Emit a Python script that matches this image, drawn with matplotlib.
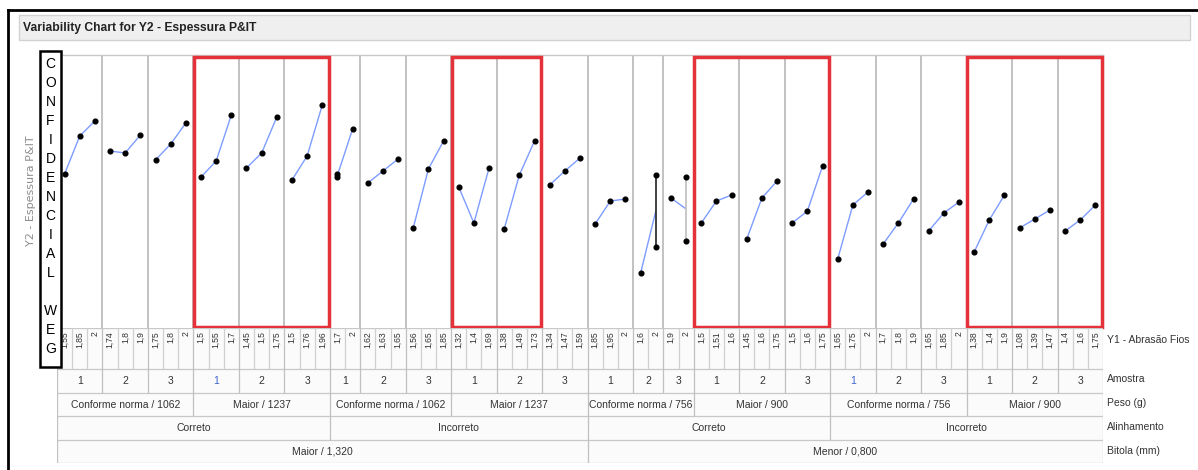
import matplotlib.pyplot as plt
from matplotlib.patches import Rectangle
from matplotlib.lines import Line2D

plt.rcParams['font.family'] = ['Liberation Sans Narrow', 'Liberation Sans', 'DejaVu Sans']

# hierarchy of the chart, outermost first
bitola = ["Maior / 1,320", "Menor / 0,800"]
alinhamento = ["Correto", "Incorreto"]
peso = [["Conforme norma / 1062", "Maior / 1237"],
        ["Conforme norma / 756", "Maior / 900"]]
amostra = ["1", "2", "3"]

# Y1 - Abrasao Fios levels, one list per amostra panel (24 panels)
abrasao = [
    ["1,55", "1,85", "2"], ["1,74", "1,8", "1,9"], ["1,75", "1,8", "2"],
    ["1,5", "1,55", "1,7"], ["1,45", "1,5", "1,75"], ["1,5", "1,76", "1,96"],
    ["1,7", "2"], ["1,62", "1,63", "1,65"], ["1,56", "1,65", "1,85"],
    ["1,32", "1,4", "1,69"], ["1,38", "1,49", "1,73"], ["1,34", "1,47", "1,59"],
    ["1,85", "1,95", "2"], ["1,6", "2"], ["1,9", "2"],
    ["1,5", "1,51", "1,6"], ["1,45", "1,6", "1,75"], ["1,5", "1,6", "1,75"],
    ["1,65", "1,75", "2"], ["1,7", "1,8", "1,9"], ["1,65", "1,85", "2"],
    ["1,38", "1,4", "1,9"], ["1,08", "1,39", "1,47"], ["1,4", "1,6", "1,75"],
]

# Y2 - Espessura P&IT observations for every Y1 cell
espessura = [
    [[0.354], [0.392], [0.407]], [[0.377], [0.375], [0.393]], [[0.368], [0.384], [0.405]],
    [[0.351], [0.367], [0.413]], [[0.360], [0.375], [0.411]], [[0.348], [0.372], [0.423]],
    [[0.3545, 0.351], [0.399]], [[0.345], [0.357], [0.369]], [[0.300], [0.359], [0.387]],
    [[0.341], [0.305], [0.360]], [[0.299], [0.353], [0.387]], [[0.343], [0.357], [0.370]],
    [[0.304], [0.327], [0.329]], [[0.255], [0.353, 0.281]], [[0.330], [0.351, 0.287]],
    [[0.305], [0.327], [0.333]], [[0.289], [0.330], [0.347]], [[0.305], [0.317], [0.362]],
    [[0.269], [0.323], [0.336]], [[0.284], [0.305], [0.329]], [[0.297], [0.315], [0.326]],
    [[0.276], [0.308], [0.333]], [[0.300], [0.309], [0.318]], [[0.297], [0.308], [0.323]],
]

W, H = 1198, 470
fig = plt.figure(figsize=(W / 100, H / 100), dpi=100)
fig.patch.set_facecolor('white')


def px_axes(x0, y0, x1, y1):
    return fig.add_axes([x0 / W, 1 - y1 / H, (x1 - x0) / W, (y1 - y0) / H])


def fx(x):
    return x / W


def fy(y):
    return 1 - y / H


# report frame and title bar
fig.add_artist(Line2D([fx(8), fx(1198)], [fy(10), fy(10)], color='black', lw=2))
fig.add_artist(Line2D([fx(8), fx(8)], [fy(10), fy(470)], color='black', lw=2))
fig.add_artist(Rectangle((fx(19), fy(40)), fx(1190) - fx(19), fy(15) - fy(40),
                         facecolor='#efefef', edgecolor='#d2d2d2', lw=1))
fig.text(fx(23), fy(28), "Variability Chart for Y2 - Espessura P&IT",
         fontsize=8.7, fontweight='bold', color='#222222', va='center')

ncell = [len(a) for a in abrasao]
starts = [sum(ncell[:i]) for i in range(len(ncell))]
total = sum(ncell)

# ---- plot area
ax = px_axes(57, 55, 1103, 328)
ax.set_xlim(0, total)
ax.set_ylim(0.20, 0.473)
ax.set_xticks([])
ax.set_yticks([])
for s in ax.spines.values():
    s.set_color('#c8c8c8')
    s.set_linewidth(1)
ax.spines['bottom'].set_visible(False)

bar_colors = {13: '#333333', 14: '#c4c4c4'}
for p, (levels, obs) in enumerate(zip(abrasao, espessura)):
    x0 = starts[p]
    xs = [x0 + i + 0.5 for i in range(len(levels))]
    means = [sum(o) / len(o) for o in obs]
    ax.plot(xs, means, color='#7d9cff', lw=1.0, zorder=2)
    for x, o in zip(xs, obs):
        if len(o) > 1:
            ax.plot([x, x], [min(o), max(o)], color=bar_colors.get(p, '#555555'),
                    lw=1.3, zorder=2)
        ax.plot([x] * len(o), o, 'o', color='black', ms=3.4, zorder=3)
    if p > 0:
        ax.axvline(x0, color='#b8b8b8', lw=1.2, zorder=1)

# highlighted Peso groups
for a, b in [(3, 5), (9, 10), (15, 17), (21, 23)]:
    x_lo = starts[a]
    x_hi = starts[b] + ncell[b]
    ax.add_patch(Rectangle((x_lo + 0.05, 0.004), x_hi - x_lo - 0.1, 0.99,
                           transform=ax.get_xaxis_transform(), fill=False,
                           edgecolor='#e5323a', lw=2.5, zorder=4, clip_on=False))

fig.text(fx(31), fy(191), "Y2 - Espessura P&IT", rotation=90, fontsize=8,
         color='#8c8c8c', ha='center', va='center', family=['DejaVu Sans'])

# ---- hierarchy table below the plot
rows = [328, 369, 393, 416, 440, 463]
lab = px_axes(57, 328, 1103, 463)
lab.set_xlim(0, total)
lab.set_ylim(463, 328)
lab.axis('off')
lab.add_patch(Rectangle((0, 328), total, 135, facecolor='#fbfbfb', edgecolor='none'))
lab.hlines(rows, 0, total, color='#c8c8c8', lw=0.9)

# boundary depth: 0 cell, 1 amostra, 2 peso, 3 alinhamento, 4 bitola
depth = {i: 0 for i in range(total + 1)}
for p in range(len(abrasao)):
    depth[starts[p]] = 1
    if p % 3 == 0:
        depth[starts[p]] = 2
    if p % 6 == 0:
        depth[starts[p]] = 3
    if p % 12 == 0:
        depth[starts[p]] = 4
depth[0] = 4
depth[total] = 4
for x, d in depth.items():
    lab.vlines(x, 328, rows[d + 1], color='#d0d0d0' if d == 0 else '#c0c0c0', lw=0.9)

for p, levels in enumerate(abrasao):
    for i, lv in enumerate(levels):
        lab.text(starts[p] + i + 0.5, 331, lv, rotation=90, ha='center', va='top',
                 fontsize=6.2, color='#333333')
    color = '#3b63c9' if p in (3, 18) else '#333333'
    lab.text(starts[p] + ncell[p] / 2, (rows[1] + rows[2]) / 2, amostra[p % 3],
             ha='center', va='center', fontsize=7.5, color=color)

for b in range(2):
    for a in range(2):
        for w in range(2):
            g = b * 12 + a * 6 + w * 3
            lo = starts[g]
            hi = starts[g + 2] + ncell[g + 2]
            lab.text((lo + hi) / 2, (rows[2] + rows[3]) / 2, peso[b][w],
                     ha='center', va='center', fontsize=7.5, color='#333333')
        g = b * 12 + a * 6
        lo = starts[g]
        hi = starts[g + 5] + ncell[g + 5]
        lab.text((lo + hi) / 2, (rows[3] + rows[4]) / 2, alinhamento[a],
                 ha='center', va='center', fontsize=7.5, color='#333333')
    lo = starts[b * 12]
    hi = starts[b * 12 + 11] + ncell[b * 12 + 11]
    lab.text((lo + hi) / 2, (rows[4] + rows[5]) / 2, bitola[b],
             ha='center', va='center', fontsize=7.5, color='#333333')

for text, y in [("Y1 - Abrasão Fios", 340), ("Amostra", 379), ("Peso (g)", 403),
                ("Alinhamento", 427), ("Bitola (mm)", 451)]:
    fig.text(fx(1107), fy(y), text, fontsize=7.5, color='#333333', va='center')

# CONFIDENCIAL WEG stamp
fig.add_artist(Rectangle((fx(40), fy(367)), fx(61) - fx(40), fy(51) - fy(367),
                         facecolor='white', edgecolor='black', lw=1.8, zorder=5))
for k, ch in enumerate("CONFIDENCIAL WEG"):
    fig.text(fx(50.5), fy(64 + 19 * k), ch, fontsize=10, color='black',
             ha='center', va='center', family=['Liberation Sans', 'DejaVu Sans'],
             zorder=6)

fig.savefig('out.png', dpi=100)
